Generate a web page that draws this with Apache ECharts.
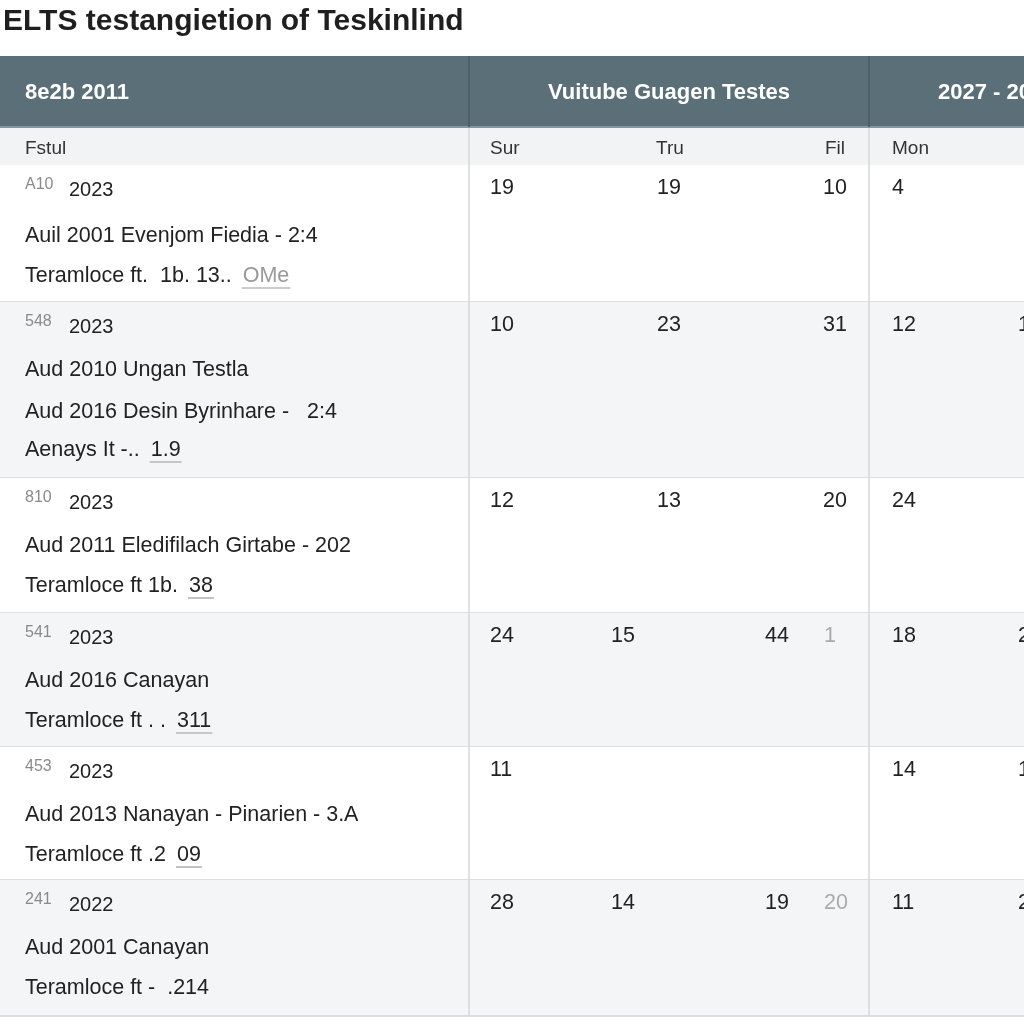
<!DOCTYPE html>
<html>
<head>
<meta charset="utf-8">
<script src="https://cdn.jsdelivr.net/npm/echarts@6/dist/echarts.min.js"></script>
<style>html,body{margin:0;padding:0;background:#fff}#c{width:1024px;height:1024px}</style>
</head>
<body>
<div id="c"></div>
<script>
// ---------------- DATA ----------------
const titleText = 'ELTS testangietion of Teskinlind';
const groupHeaders = ['8e2b 2011', 'Vuitube Guagen Testes', '2027 - 2028'];
const subHeaders = ['Fstul', 'Sur', 'Tru', 'Fil', 'Mon'];
const codes = ['A10', '548', '810', '541', '453', '241'];
const years = ['2023', '2023', '2023', '2023', '2023', '2022'];
const titles = [
  'Auil 2001 Evenjom Fiedia - 2:4',
  'Aud 2010 Ungan Testla',
  'Aud 2011 Eledifilach Girtabe - 202',
  'Aud 2016 Canayan',
  'Aud 2013 Nanayan - Pinarien - 3.A',
  'Aud 2001 Canayan'
];
const subtitles = [null, 'Aud 2016 Desin Byrinhare -   2:4', null, null, null, null];
const notes = ['Teramloce ft.  1b. 13..', 'Aenays It -..', 'Teramloce ft 1b.', 'Teramloce ft . .', 'Teramloce ft .2', 'Teramloce ft -  .214'];
const noteValues = ['OMe', '1.9', '38', '311', '09', ''];
const weekValues = [[19, 19, 10], [10, 23, 31], [12, 13, 20], [24, 15, 44, 1], [11], [28, 14, 19, 20]];
const monValues = [4, 12, 24, 18, 14, 11];
const nextValues = ['', '1', '', '2', '1', '2'];

// ---------------- LAYOUT ----------------
const FAMILY = 'Liberation Sans';
const BODY = 21.5;
const ROW_EDGES = [165, 302, 478, 613, 747, 880, 1016];
const HEADER_TOP = 56, HEADER_BOT = 127, SUB_BOT = 165;
const COL_LINES = [469, 869];
const W = 1024;

const measureCtx = document.createElement('canvas').getContext('2d');
function textWidth(t, size) { measureCtx.font = size + 'px "' + FAMILY + '"'; return measureCtx.measureText(t).width; }

function txt(api, x, y, text, opt) {
  const p = api.coord([x, y]);
  return {
    type: 'text', x: p[0], y: p[1],
    style: Object.assign({ text: text, fill: '#222', fontFamily: FAMILY, fontSize: BODY, fontWeight: 'normal', align: 'left', verticalAlign: 'middle' }, opt || {})
  };
}
function rect(api, x0, y0, x1, y1, fill) {
  const a = api.coord([x0, y0]), b = api.coord([x1, y1]);
  return { type: 'rect', shape: { x: a[0], y: a[1], width: b[0] - a[0], height: b[1] - a[1] }, style: { fill: fill } };
}
function line(api, x0, y0, x1, y1, color, w) {
  const a = api.coord([x0, y0]), b = api.coord([x1, y1]);
  return { type: 'line', shape: { x1: a[0], y1: a[1], x2: b[0], y2: b[1] }, style: { stroke: color, lineWidth: w || 1 } };
}

function renderHeader(params, api) {
  const c = [];
  c.push(rect(api, 0, HEADER_TOP, W, HEADER_BOT, '#5b6f79'));
  c.push(line(api, 0, HEADER_BOT, W, HEADER_BOT, '#8596a0', 2));
  COL_LINES.forEach(x => c.push(line(api, x, HEADER_TOP, x, HEADER_BOT, '#4a5c65', 1.5)));
  const hy = (HEADER_TOP + HEADER_BOT) / 2 + 1;
  const hf = { fill: '#fff', fontSize: 22, fontWeight: 'bold' };
  c.push(txt(api, 25, hy, groupHeaders[0], hf));
  c.push(txt(api, 669, hy, groupHeaders[1], Object.assign({ align: 'center' }, hf)));
  c.push(txt(api, 938, hy, groupHeaders[2], hf));
  c.push(rect(api, 0, HEADER_BOT + 1, W, SUB_BOT, '#f1f3f4'));
  const sy = (HEADER_BOT + SUB_BOT) / 2 + 3;
  const subPos = [[25, 'left'], [490, 'left'], [656, 'left'], [845, 'right'], [892, 'left']];
  subHeaders.forEach((s, k) => c.push(txt(api, subPos[k][0], sy, s, { fill: '#333', fontSize: 19, align: subPos[k][1] })));
  COL_LINES.forEach(x => c.push(line(api, x, HEADER_BOT + 1, x, SUB_BOT, '#d4d8da', 1.5)));
  return { type: 'group', children: c };
}

const SLOTS3 = [[490, 'left'], [657, 'left'], [847, 'right']];
const SLOTS4 = [[490, 'left'], [611, 'left'], [789, 'right'], [824, 'left']];

function renderRow(params, api) {
  const i = params.dataIndex;
  const top = ROW_EDGES[i], bot = ROW_EDGES[i + 1];
  const c = [];
  c.push(rect(api, 0, top, W, bot, i % 2 ? '#f3f5f6' : '#ffffff'));
  c.push(line(api, 0, bot, W, bot, '#dcdfe1', 2));
  COL_LINES.forEach(x => c.push(line(api, x, top, x, bot, '#d4d8da', 1.5)));
  const y1 = top + 23;
  c.push(txt(api, 25, y1 - 3, codes[i], { fill: '#8a8a8a', fontSize: 16 }));
  c.push(txt(api, 69, y1 + 2, years[i], { fontSize: 20 }));
  const lines = [titles[i]];
  if (subtitles[i]) lines.push(subtitles[i]);
  const l2 = top + (i === 0 ? 71 : 68);
  lines.forEach((t, k) => c.push(txt(api, 25, l2 + k * 42, t)));
  const ny = l2 + lines.length * 40;
  c.push(txt(api, 25, ny, notes[i]));
  if (noteValues[i]) {
    const vx = 25 + textWidth(notes[i], BODY) + 11;
    const grey = i === 0;
    c.push(txt(api, vx, ny, noteValues[i], { fill: grey ? '#999' : '#222' }));
    const vw = textWidth(noteValues[i], BODY);
    c.push(line(api, vx - 1, ny + 12, vx + vw + 1, ny + 12, '#9a9a9a', 1.2));
  }
  const wv = weekValues[i];
  const slots = wv.length === 4 ? SLOTS4 : SLOTS3;
  wv.forEach((v, k) => {
    const grey = wv.length === 4 && k === 3;
    c.push(txt(api, slots[k][0], y1, String(v), { align: slots[k][1], fill: grey ? '#aaa' : '#222' }));
  });
  c.push(txt(api, 892, y1, String(monValues[i])));
  if (nextValues[i]) c.push(txt(api, 1018, y1, nextValues[i]));
  return { type: 'group', children: c };
}

const chart = echarts.init(document.getElementById('c'), null, { renderer: 'canvas' });
chart.setOption({
  backgroundColor: '#ffffff',
  animation: false,
  title: {
    text: titleText, left: -2, top: 2,
    textStyle: { fontFamily: FAMILY, fontSize: 30, fontWeight: 'bold', color: '#1f1f1f' }
  },
  grid: { left: 0, right: 0, top: 0, bottom: 0 },
  xAxis: { type: 'value', min: 0, max: W, show: false },
  yAxis: { type: 'value', min: 0, max: W, inverse: true, show: false },
  series: [
    { type: 'custom', renderItem: renderHeader, data: [0], silent: true },
    { type: 'custom', renderItem: renderRow, data: codes.map((_, k) => k), silent: true }
  ]
});
</script>
</body>
</html>
